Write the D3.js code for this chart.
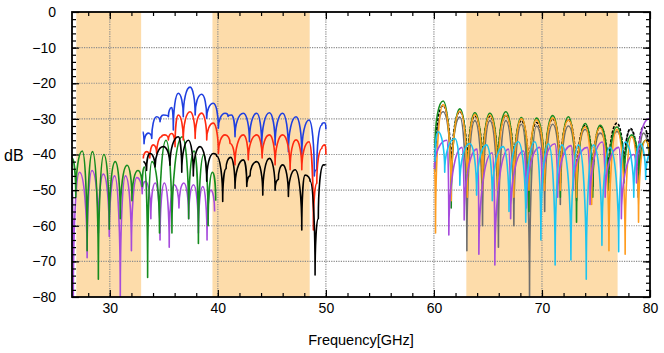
<!DOCTYPE html>
<html>
<head>
<meta charset="utf-8">
<script src="https://cdn.jsdelivr.net/npm/d3@7"></script>
<style>
  body { margin: 0; background: #fff; }
  svg { display: block; font-family: "Liberation Sans", Arial, Helvetica, sans-serif; }
</style>
</head>
<body>
<div id="chart"></div>
<script>
// tick labels / shaded bands (GHz)
const xTicks = [30, 40, 50, 60, 70, 80];
const yTicks = [0, -10, -20, -30, -40, -50, -60, -70, -80];
const bands = [[26.9, 32.9], [39.5, 48.5], [63, 77]];

// traces: [GHz, dB], peaks and nulls
const purpleAB = [[26.5,-47],[26.62,-80],[27.2,-45],[27.9,-69],[28.35,-44.5],[28.94,-62],[29.4,-45.5],[29.95,-63],
  [30.45,-46],[30.97,-80],[31.45,-46],[32.0,-67],[32.5,-46.5],[33.0,-51],[33.3,-47.5],[33.8,-58],[34.2,-48],
  [34.65,-64],[35.05,-48],[35.5,-66],[35.95,-48.5],[36.4,-55],[36.85,-48],[37.3,-58],[37.75,-48.5],[38.2,-62],
  [38.6,-49],[39.0,-64],[39.35,-50],[39.7,-56]];

const greenAB = [[26.5,-41],[26.85,-52],[27.45,-39],[27.9,-67],[28.4,-39.2],[28.94,-75],[29.45,-40],[29.95,-61],
  [30.5,-42],[30.97,-58],[31.6,-43],[32.05,-53],[32.6,-44.5],[33.0,-49],[33.2,-43.5],[33.5,-74.5],[33.9,-42],
  [34.6,-62],[35.2,-36],[35.75,-62],[36.7,-35],[37.3,-58],[37.8,-39],[38.2,-65],[38.7,-40],[39.1,-60],
  [39.5,-45],[39.8,-53]];

const blueB = [[33.05,-33.6],[33.17,-37],[33.56,-34],[33.88,-35.5],[34.34,-29.4],[34.65,-30.8],[34.95,-28.9],
  [35.42,-29.4],[35.73,-26.8],[35.88,-33.1],[36.34,-22.8],[36.8,-29.4],[37.43,-21.1],[37.9,-28.9],[38.5,-23.1],
  [38.97,-29.8],[39.58,-25.6],[40.05,-32.6],[40.67,-28.4],[40.95,-29.3],[41.25,-28.9],[41.59,-35],[42.36,-28.4],
  [42.92,-36.4],[43.6,-28.4],[44.06,-37.8],[44.77,-28.3],[45.3,-37.3],[46.0,-28.4],[46.53,-39.2],[47.24,-29.4],
  [47.77,-40.1],[48.44,-30.3],[48.93,-46],[49.16,-44.3],[49.62,-31.7],[49.86,-31.1],[50.0,-32.9]];

const redB = [[33.1,-41.1],[33.42,-39.2],[33.7,-41],[34.03,-37.3],[34.34,-39.7],[34.8,-35],[35.1,-34.5],
  [35.42,-35.9],[35.73,-34.1],[36.04,-37.8],[36.34,-28.9],[36.8,-35.9],[37.43,-28.0],[37.9,-35.5],[38.5,-28.4],
  [38.97,-35.9],[39.58,-31.2],[40.05,-39.7],[40.67,-34.5],[41.13,-36.9],[41.59,-42.9],[42.36,-34.5],[42.82,-41.5],
  [43.6,-34.5],[44.1,-41],[44.77,-34.5],[45.3,-42.9],[46.0,-34.5],[46.69,-44.3],[47.24,-35.9],[47.77,-44.3],
  [48.44,-36.4],[48.84,-61.2],[49.16,-48.1],[49.62,-38.3],[49.93,-37.3],[50.0,-40.1]];

const blackB = [[33.1,-42],[33.4,-44.5],[33.72,-39.7],[34.19,-43.5],[34.95,-37.8],[35.57,-43],[36.34,-35],
  [36.66,-45],[37.27,-36],[37.73,-46],[38.35,-37.8],[38.97,-47.5],[39.58,-39.7],[39.9,-40.5],[40.45,-53.2],
  [40.76,-44],[41.19,-40.8],[41.59,-49.5],[42.36,-41.5],[42.68,-49],[42.98,-46],[43.6,-42],[44.16,-51.4],
  [44.77,-41.1],[45.3,-50],[45.6,-47],[46.0,-42.9],[46.53,-51.8],[47.15,-44.3],[47.77,-61.2],[48.07,-45.8],
  [48.54,-47.5],[49.0,-73.8],[49.3,-58],[49.77,-42.9],[50.0,-43]];

const grayC = [[60.1,-45],[60.85,-28],[61.6,-50],[62.4,-29.5],[63.05,-67],[63.79,-30.5],[64.5,-60],[65.18,-30.5],
  [65.97,-66],[66.66,-30.5],[67.4,-60],[68.1,-31.5],[68.85,-80],[69.49,-32],[70.25,-56],[71.0,-31.5],[71.7,-54],
  [72.45,-32],[73.2,-53],[74.0,-33],[74.7,-50],[75.39,-34],[76.15,-48],[76.94,-33.5],[77.6,-47],[78.2,-33],
  [78.9,-52],[79.4,-34],[80.0,-46]];

const blackC = [[60.1,-42],[60.85,-26.3],[61.6,-47],[62.4,-28],[63.1,-46],[63.79,-29.2],[64.5,-45],[65.18,-29.3],
  [65.9,-46],[66.66,-29],[67.4,-47],[68.1,-30.5],[68.8,-49],[69.49,-31],[70.25,-47],[71.0,-30],[71.7,-48],
  [72.45,-30.2],[73.2,-50],[74.0,-31.8],[74.7,-49],[75.39,-32.2],[76.15,-48],[76.94,-31.2],[77.6,-47],
  [78.2,-32.7],[78.85,-46],[79.4,-32.2],[80.0,-45]];

const greenC = [[60.1,-38],[60.85,-25],[61.6,-55],[62.4,-27.2],[63.1,-50],[63.79,-28.3],[64.5,-48],[65.18,-28.4],
  [65.9,-47],[66.66,-28],[67.4,-50],[68.1,-29.6],[68.8,-56],[69.49,-29.8],[70.25,-48],[71.0,-29.1],[71.7,-52],
  [72.45,-29.4],[73.2,-59],[74.0,-31.3],[74.7,-52],[75.39,-31.8],[76.15,-50],[76.94,-32.3],[77.6,-48],
  [78.3,-34.5],[79.0,-47],[79.6,-36],[80.0,-44]];

const orangeC = [[60.05,-44],[60.15,-62],[60.85,-26],[61.6,-53],[62.4,-27.8],[63.1,-52],[63.79,-28.8],[64.5,-50],
  [65.18,-29],[65.9,-50],[66.66,-29],[67.4,-52],[68.1,-30],[68.8,-50],[69.49,-30.3],[70.25,-50],[71.0,-29.8],
  [71.7,-50],[72.45,-30.3],[73.2,-52],[74.0,-32.3],[74.6,-54],[75.39,-32.5],[76.2,-67],[76.94,-33],[77.7,-68],
  [78.3,-35],[78.94,-59],[79.6,-36],[80.0,-42]];

const purpleC = [[60.05,-44],[61.2,-36],[61.38,-62.6],[62.6,-38],[62.8,-58.4],[64.0,-38.5],[64.16,-68],
  [65.4,-39.5],[65.64,-71],[66.9,-38.5],[67.1,-58],[68.3,-39],[68.55,-55],[69.8,-38],[70.0,-50],[71.2,-37],
  [71.45,-52],[72.7,-37.5],[72.9,-50],[74.2,-38],[74.45,-54],[75.6,-36.5],[75.85,-52],[77.1,-38],[77.35,-58],
  [78.5,-40],[78.75,-48],[79.9,-30]];

const cyanC = [[60.1,-42],[60.39,-33.6],[61.0,-45],[61.94,-35.5],[62.4,-48.6],[63.32,-36.9],[63.95,-51.4],
  [64.86,-37.3],[65.4,-53],[66.4,-37.8],[66.95,-56],[67.8,-36.4],[68.5,-59],[69.34,-36.4],[69.9,-64],[70.6,-37],
  [71.22,-71],[71.84,-37.3],[72.68,-69.6],[73.38,-37.3],[74.1,-75],[74.77,-37.3],[75.55,-65.5],[76.3,-38],
  [77.1,-67.3],[77.7,-36.5],[78.5,-52],[79.1,-37],[79.6,-47],[80.0,-40]];

const series = [
  {pts: purpleAB, color: "#a64bdc"},
  {pts: greenAB, color: "#168c1e"},
  {pts: blueB, color: "#1f3fe0"},
  {pts: redB, color: "#ff2a10"},
  {pts: blackB, color: "#000000"},
  {pts: grayC, color: "#6e6e6e"},
  {pts: blackC, color: "#000000", dash: "3,1.5"},
  {pts: greenC, color: "#168c1e"},
  {pts: orangeC, color: "#ff9c1e"},
  {pts: purpleC, color: "#a64bdc"},
  {pts: cyanC, color: "#1cc4f0"}
];

const width = 664, height = 353;
const margin = {top: 12, right: 14, bottom: 56, left: 72};

const x = d3.scaleLinear().domain([26.5, 80]).range([margin.left, width - margin.right]);
const y = d3.scaleLinear().domain([-80, 0]).range([height - margin.bottom, margin.top]);

const svg = d3.select("#chart").append("svg")
  .attr("width", width)
  .attr("height", height);

svg.append("clipPath").attr("id", "plot")
  .append("rect")
  .attr("x", x(26.5)).attr("y", y(0))
  .attr("width", x(80) - x(26.5)).attr("height", y(-80) - y(0));

// shaded bands
svg.append("g")
  .selectAll("rect")
  .data(bands)
  .join("rect")
  .attr("x", d => x(d[0]))
  .attr("width", d => x(d[1]) - x(d[0]))
  .attr("y", y(0))
  .attr("height", y(-80) - y(0))
  .attr("fill", "#fddcaa");

// dotted grid
const grid = svg.append("g")
  .attr("stroke", "#8c8c8c")
  .attr("stroke-width", 1.2)
  .attr("stroke-dasharray", "1.2,1.2");
grid.selectAll("line.v")
  .data(xTicks.filter(d => d < 80))
  .join("line")
  .attr("x1", d => x(d)).attr("x2", d => x(d))
  .attr("y1", y(0)).attr("y2", y(-80));
grid.selectAll("line.h")
  .data(yTicks.filter(d => d > -80 && d < 0))
  .join("line")
  .attr("y1", d => y(d)).attr("y2", d => y(d))
  .attr("x1", x(26.5)).attr("x2", x(80));

// dome curve: round on the humps, steep into the nulls (dB of a ripple)
function curveDome(context) {
  const k = 0.55;
  let x0, y0, started;
  return {
    lineStart() { started = false; },
    lineEnd() {},
    point(px, py) {
      if (!started) {
        context.moveTo(px, py);
        started = true;
      } else if (py < y0) {
        context.bezierCurveTo(x0, y0 + k * (py - y0), px - k * (px - x0), py, px, py);
      } else {
        context.bezierCurveTo(x0 + k * (px - x0), y0, px, py - k * (py - y0), px, py);
      }
      x0 = px; y0 = py;
    }
  };
}

const line = d3.line()
  .x(d => x(d[0]))
  .y(d => y(d[1]))
  .curve(curveDome);

svg.append("g")
  .attr("clip-path", "url(#plot)")
  .attr("fill", "none")
  .attr("stroke-linejoin", "round")
  .selectAll("path")
  .data(series)
  .join("path")
  .attr("stroke", d => d.color)
  .attr("stroke-width", 1.6)
  .attr("stroke-dasharray", d => d.dash || null)
  .attr("d", d => line(d.pts));

// axes, ticks inward on all four sides
const xMinor = d3.range(28, 80, 2);
const yMinor = d3.range(-78, 0, 2);

function styleAxis(g) {
  g.select(".domain").remove();
  g.selectAll("line").attr("stroke", "#000").attr("stroke-width", 1.2);
  g.attr("font-family", null).attr("font-size", 14).attr("fill", "#000");
}

svg.append("g")
  .attr("transform", `translate(0,${y(-80)})`)
  .call(d3.axisBottom(x).tickValues(xMinor).tickSize(-4).tickFormat(""))
  .call(styleAxis);
svg.append("g")
  .attr("transform", `translate(0,${y(-80)})`)
  .call(d3.axisBottom(x).tickValues(xTicks).tickSize(-7).tickPadding(6).tickFormat(d3.format("d")))
  .call(styleAxis);
svg.append("g")
  .attr("transform", `translate(0,${y(0)})`)
  .call(d3.axisTop(x).tickValues(xMinor).tickSize(-4).tickFormat(""))
  .call(styleAxis);
svg.append("g")
  .attr("transform", `translate(0,${y(0)})`)
  .call(d3.axisTop(x).tickValues(xTicks).tickSize(-7).tickFormat(""))
  .call(styleAxis);

svg.append("g")
  .attr("transform", `translate(${x(26.5)},0)`)
  .call(d3.axisLeft(y).tickValues(yMinor).tickSize(-4).tickFormat(""))
  .call(styleAxis);
svg.append("g")
  .attr("transform", `translate(${x(26.5)},0)`)
  .call(d3.axisLeft(y).tickValues(yTicks).tickSize(-7).tickPadding(16).tickFormat(d3.format("d")))
  .call(styleAxis);
svg.append("g")
  .attr("transform", `translate(${x(80)},0)`)
  .call(d3.axisRight(y).tickValues(yMinor).tickSize(-4).tickFormat(""))
  .call(styleAxis);
svg.append("g")
  .attr("transform", `translate(${x(80)},0)`)
  .call(d3.axisRight(y).tickValues(yTicks).tickSize(-7).tickFormat(""))
  .call(styleAxis);

// frame
svg.append("rect")
  .attr("x", x(26.5)).attr("y", y(0))
  .attr("width", x(80) - x(26.5)).attr("height", y(-80) - y(0))
  .attr("fill", "none")
  .attr("stroke", "#000")
  .attr("stroke-width", 1.8);

// axis titles
svg.append("text")
  .attr("x", (x(26.5) + x(80)) / 2)
  .attr("y", 345)
  .attr("text-anchor", "middle")
  .attr("font-size", 14.5)
  .text("Frequency[GHz]");

svg.append("text")
  .attr("x", 4)
  .attr("y", y(-40) + 1)
  .attr("dy", "0.35em")
  .attr("font-size", 16)
  .text("dB");
</script>
</body>
</html>
